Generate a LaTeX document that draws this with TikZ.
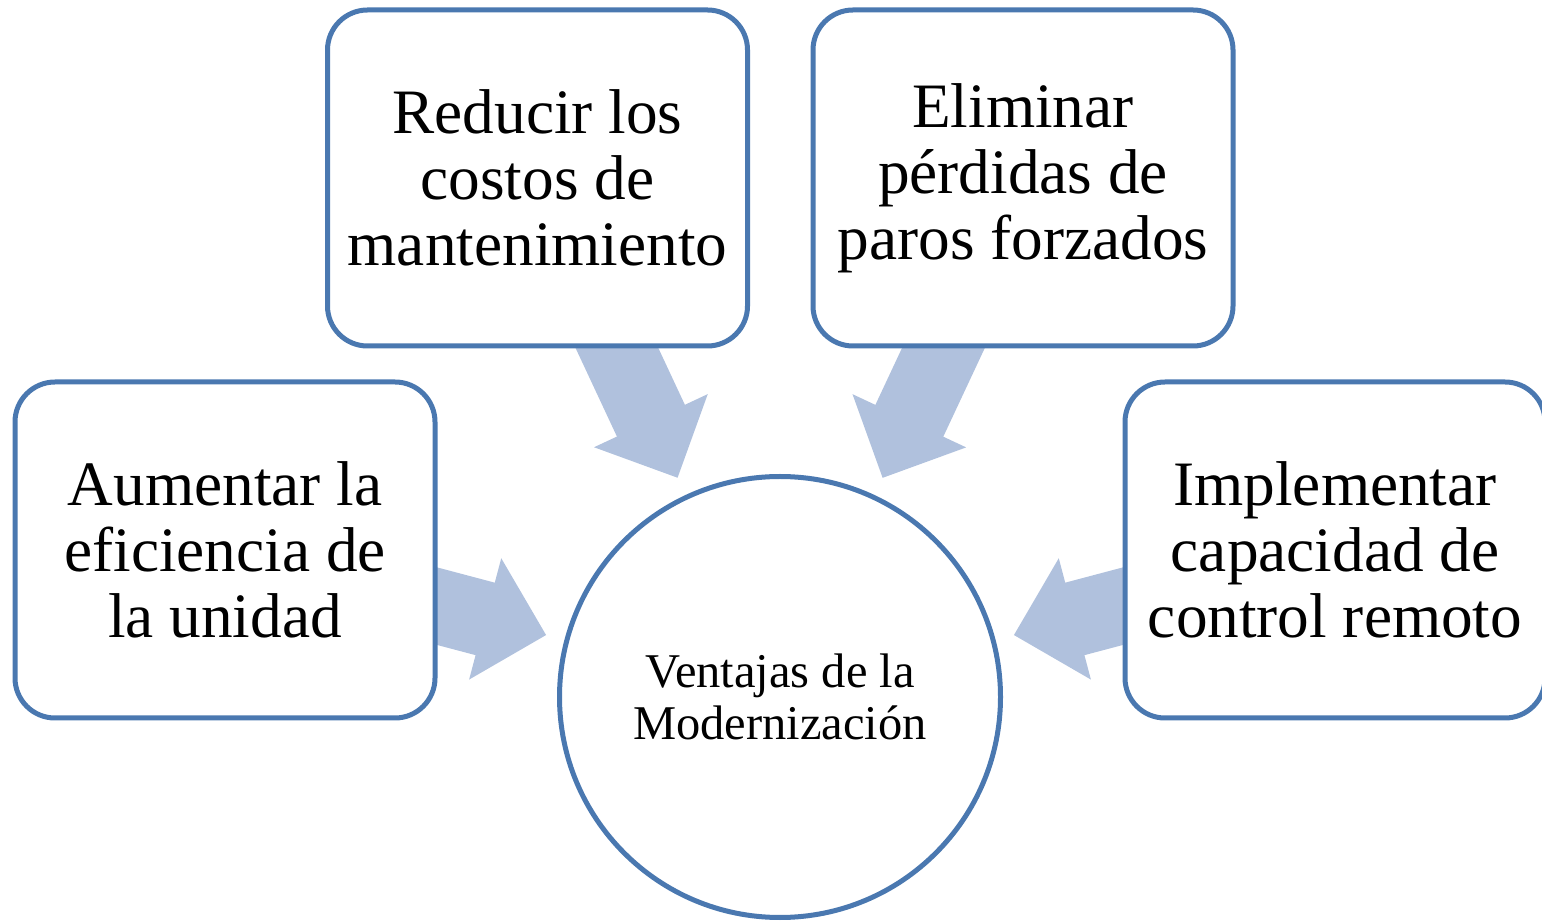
\documentclass[tikz,border=0pt]{standalone}
\usepackage{fontspec}
\setmainfont{Liberation Serif}
\usetikzlibrary{
	arrows.meta,
	backgrounds
}
\definecolor{boxblue}{HTML}{4A78B0}
\definecolor{arrblue}{HTML}{B0C1DD}

\begin{document}
\begin{tikzpicture}[
			box/.style={
				rectangle,
				draw=boxblue,
				line width=0.5mm,
				rounded corners=4mm,
				fill=white,
				minimum width=4.2cm,
				minimum height=3.36cm,
				align=center,
				font=\fontsize{18pt}{18.8pt}\selectfont
			},
			hub/.style={
				circle,
				draw=boxblue,
				line width=0.5mm,
				fill=white,
				minimum size=4.41cm,
				align=center,
				font=\fontsize{13.8pt}{14.8pt}\selectfont
			},
			arr/.style={
				draw=arrblue,
				line width=7.5mm,
				shorten >=1.9mm,
				-{Triangle[length=6.3mm, width=12.5mm, line width=0.8pt]}
			}
			]
			
			\useasboundingbox (0,0) rectangle (15.42,-9.22);
			
			\node[box] (eff) at (2.25,-5.50) {
				Aumentar la\\
				eficiencia de\\
				la unidad
			};
			
			\node[box] (cost) at (5.375,-1.78) {
				Reducir los\\
				costos de\\
				mantenimiento
			};
			
			\node[box] (loss) at (10.23,-1.78) {
				Eliminar\\
				pérdidas de\\
				paros forzados
			};
			
			\node[box] (rem) at (13.35,-5.50) {
				Implementar\\
				capacidad de\\
				control remoto
			};
			
			\node[hub] (mod) at (7.80,-6.97) {
				Ventajas de la\\
				Modernización
			};
			
			\begin{scope}[on background layer]
				\draw[arr] (eff.center) -- (mod);
				\draw[arr] (cost.center) -- (mod);
				\draw[arr] (loss.center) -- (mod);
				\draw[arr] (rem.center) -- (mod);
			\end{scope}
			
		\end{tikzpicture}
\end{document}
